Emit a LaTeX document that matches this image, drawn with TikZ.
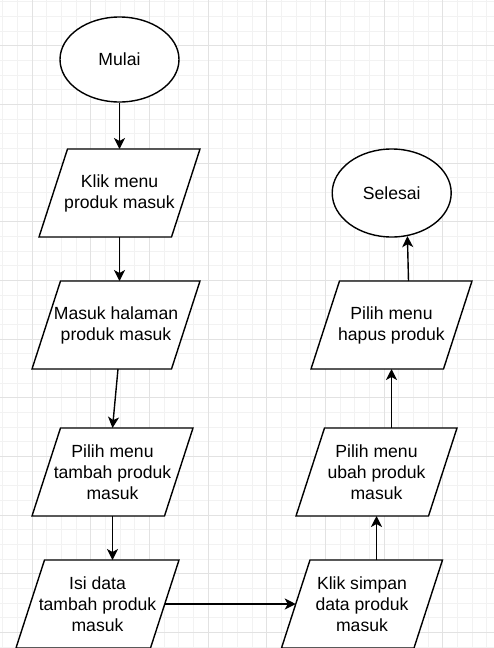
\documentclass[tikz,border=0pt]{standalone}
\usepackage{fontspec}
\setmainfont{Liberation Sans}
\usetikzlibrary{shapes.geometric,arrows.meta}
\definecolor{gridminor}{HTML}{F2F2F2}
\definecolor{gridmajor}{HTML}{E2E2E2}
% name, cx, cy, total width, text
\newcommand\iobox[5]{%
  \draw[ioshape] ({#2-#4/2},{#3+44}) -- ({#2+#4/2-28.5},{#3+44}) -- ({#2+#4/2},{#3-44}) -- ({#2-#4/2+28.5},{#3-44}) -- cycle;
  \node[iotext, minimum width={#4-28.5}] (#1) at (#2,#3) {#5};
}
\begin{document}
\begin{tikzpicture}[x=1pt,y=-1pt,
  txt/.style={font=\fontsize{17.6}{21.1}\selectfont, align=center, text=black},
  term/.style={ellipse, draw, fill=white, line width=1.4pt, minimum width=119pt, minimum height=85pt, inner sep=0pt, txt},
  ioshape/.style={draw, fill=white, line width=1.4pt, line join=miter},
  iotext/.style={rectangle, minimum height=88pt, inner sep=0pt, outer sep=0pt, txt},
  flow/.style={line width=1.4pt, -{Stealth[length=11pt,width=11pt,inset=3pt]}},
  gminor/.style={gridminor, line width=1pt},
  gmajor/.style={gridmajor, line width=1pt}
]
\useasboundingbox (0,0) rectangle (494,648);
\begin{scope}
\clip (0,0) rectangle (494,648);
\foreach \i in {0,...,34} { \draw[gminor] ({2.667+14.667*\i},0) -- ({2.667+14.667*\i},648); }
\foreach \j in {0,...,44} { \draw[gminor] (0,{1.7+14.667*\j}) -- (494,{1.7+14.667*\j}); }
\foreach \i in {0,...,8} { \draw[gmajor] ({32+58.667*\i},0) -- ({32+58.667*\i},648); }
\foreach \j in {0,...,10} { \draw[gmajor] (0,{45.7+58.667*\j}) -- (494,{45.7+58.667*\j}); }
\end{scope}

\node[term] (m) at (119.5,59.5) {Mulai};
\iobox{p1}{119.5}{193}{161}{Klik menu\\produk masuk}
\iobox{p2}{116}{325}{168}{Masuk halaman\\produk masuk}
\iobox{p3}{112.5}{472}{161}{Pilih menu\\tambah produk\\masuk}
\iobox{p4}{97.5}{604}{163}{Isi data\\tambah produk\\masuk}
\iobox{p5}{362}{604}{161}{Klik simpan\\data produk\\masuk}
\iobox{p6}{376.5}{472}{161}{Pilih menu\\ubah produk\\masuk}
\iobox{p7}{391.5}{325}{161}{Pilih menu\\hapus produk}
\node[term, minimum height=88pt] (s) at (391.7,193) {Selesai};

\draw[flow] (m.south) -- (p1.north);
\draw[flow] (p1.south) -- (p1.south |- p2.north);
\draw[flow] ([xshift=2pt]p2.south) -- (p3.north);
\draw[flow] (p3.south) -- (p3.south |- p4.north);
\draw[flow] (p4.east) -- (p5.west);
\draw[flow] (p6.south |- p5.north) -- (p6.south);
\draw[flow] (p7.south |- p6.north) -- (p7.south);
\draw[flow] ([xshift=17pt]p7.north) -- (s.-70);
\end{tikzpicture}
\end{document}
